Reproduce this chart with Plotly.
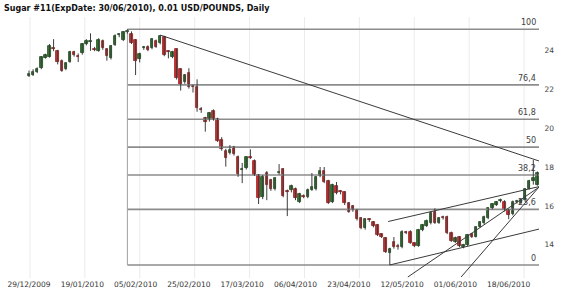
import plotly.graph_objects as go
import pandas as pd

# ---------------- data ----------------
HOLIDAYS = ["2010-01-01", "2010-01-18", "2010-02-15", "2010-03-01", "2010-04-02", "2010-05-31"]
trading_days = [d for d in pd.bdate_range("2009-12-29", "2010-06-29")
                if d.strftime("%Y-%m-%d") not in HOLIDAYS]
dates = [d.strftime("%d/%m/%Y") for d in trading_days]

opens = [22.72, 22.75, 22.90, 23.10, 23.65, 23.70, 24.15, 24.00, 23.50, 23.07,
         23.43, 23.95, 23.72, 23.87, 24.33, 24.45, 24.10, 24.00, 24.50, 24.08,
         23.61, 24.30, 24.80, 24.55, 24.98, 24.85, 24.55, 23.56, 24.15, 24.22,
         24.13, 24.52, 24.39, 24.73, 23.97, 23.70, 24.08, 23.04, 22.41, 22.84,
         22.17, 22.15, 21.00, 20.52, 20.47, 20.91, 20.47, 19.40, 18.85, 18.72,
         19.02, 18.54, 17.86, 17.94, 18.50, 18.33, 17.60, 16.48, 17.72, 17.34,
         16.86, 17.70, 17.89, 16.75, 16.82, 16.90, 16.23, 16.52, 16.46, 16.83,
         16.87, 17.54, 17.80, 17.29, 16.22, 17.03, 16.73, 16.70, 16.14, 15.99,
         15.79, 15.37, 14.85, 15.30, 15.15, 15.02, 14.56, 14.34, 13.59, 14.16,
         13.95, 13.88, 14.66, 14.68, 14.08, 13.95, 14.77, 14.97, 15.11, 15.71,
         15.14, 15.40, 15.42, 14.62, 14.15, 14.40, 13.90, 13.98, 14.55, 14.42,
         14.93, 15.11, 15.37, 15.88, 16.06, 16.25, 16.22, 15.79, 15.60, 16.20,
         16.15, 16.31, 16.90, 17.30, 17.10]
highs = [22.98, 23.05, 23.15, 23.72, 23.85, 24.35, 24.60, 24.05, 23.55, 23.40,
         24.00, 24.00, 23.86, 24.40, 24.60, 24.90, 24.20, 24.65, 24.58, 24.12,
         24.30, 24.85, 24.90, 25.02, 25.11, 25.00, 24.60, 23.90, 24.25, 24.28,
         24.65, 24.58, 24.81, 24.78, 24.02, 24.00, 24.12, 23.10, 22.80, 23.10,
         22.25, 22.53, 21.10, 20.60, 20.85, 20.98, 20.55, 19.55, 18.95, 19.14,
         19.10, 18.60, 18.22, 18.55, 18.92, 18.40, 17.65, 17.60, 17.80, 17.40,
         17.48, 18.16, 17.95, 16.85, 17.10, 16.95, 16.68, 16.60, 16.90, 17.70,
         17.55, 18.01, 18.01, 17.35, 17.15, 17.24, 16.82, 16.76, 16.20, 16.05,
         15.85, 15.42, 15.36, 15.38, 15.22, 15.08, 14.60, 14.40, 13.85, 14.40,
         14.05, 14.75, 14.72, 14.75, 14.12, 14.82, 15.08, 15.30, 15.72, 15.88,
         15.42, 15.50, 15.50, 14.68, 14.42, 14.45, 14.05, 14.56, 14.62, 14.95,
         15.22, 15.50, 15.93, 16.15, 16.26, 16.38, 16.30, 15.85, 16.28, 16.32,
         16.36, 16.92, 17.35, 18.37, 17.78]
lows = [22.65, 22.70, 22.85, 23.05, 23.60, 23.65, 23.98, 23.30, 22.92, 23.00,
        23.38, 23.70, 23.42, 23.80, 24.28, 24.00, 23.98, 23.95, 24.05, 23.49,
        23.55, 24.25, 24.70, 24.50, 24.88, 24.35, 22.75, 23.40, 24.05, 23.98,
        24.08, 24.15, 24.33, 23.72, 23.61, 23.62, 22.52, 21.95, 22.30, 22.05,
        21.85, 20.86, 20.80, 19.83, 20.35, 20.40, 19.30, 18.85, 18.03, 18.65,
        18.60, 17.50, 17.18, 17.88, 18.42, 17.55, 16.10, 16.35, 16.30, 16.78,
        16.80, 17.62, 16.45, 15.48, 16.70, 16.30, 16.15, 16.40, 16.40, 16.78,
        16.80, 17.48, 17.18, 16.10, 16.15, 16.60, 16.60, 16.05, 15.65, 15.70,
        15.25, 14.80, 14.78, 15.18, 14.90, 14.45, 14.35, 13.58, 12.96, 13.80,
        13.75, 13.82, 14.55, 14.05, 13.88, 13.90, 14.70, 14.92, 15.05, 15.08,
        15.08, 15.30, 14.55, 14.15, 14.10, 13.88, 13.82, 13.93, 14.35, 14.38,
        14.88, 15.05, 15.32, 15.83, 16.00, 16.18, 15.72, 15.32, 15.52, 16.12,
        16.10, 16.25, 16.85, 17.10, 17.05]
closes = [22.80, 22.90, 23.05, 23.67, 23.78, 24.25, 24.10, 23.40, 22.98, 23.35,
          23.92, 23.80, 23.68, 24.33, 24.52, 24.50, 24.05, 24.56, 24.14, 23.73,
          24.25, 24.76, 24.83, 24.95, 25.02, 24.42, 23.45, 23.84, 24.18, 24.04,
          24.60, 24.21, 24.76, 23.78, 23.94, 23.95, 22.58, 22.24, 22.75, 22.15,
          22.13, 21.04, 20.97, 20.35, 20.81, 20.47, 19.37, 18.92, 18.46, 18.89,
          18.68, 17.65, 17.90, 18.51, 18.47, 17.60, 16.40, 17.51, 17.08, 16.86,
          17.43, 17.73, 16.52, 16.72, 17.02, 16.40, 16.60, 16.49, 16.85, 17.00,
          17.49, 17.82, 17.24, 16.17, 17.08, 16.65, 16.70, 16.14, 15.70, 15.79,
          15.31, 14.85, 15.31, 15.26, 14.95, 14.50, 14.40, 13.64, 13.77, 13.87,
          13.90, 14.68, 14.63, 14.11, 13.93, 14.77, 15.02, 15.23, 15.66, 15.14,
          15.37, 15.38, 14.62, 14.21, 14.35, 13.93, 14.00, 14.51, 14.40, 14.90,
          15.17, 15.45, 15.88, 16.10, 16.20, 16.28, 15.79, 15.54, 16.22, 16.23,
          16.31, 16.86, 17.30, 17.45, 17.72]

tick_labels = ["29/12/2009", "19/01/2010", "05/02/2010", "25/02/2010", "17/03/2010",
               "06/04/2010", "23/04/2010", "12/05/2010", "01/06/2010", "18/06/2010"]
price_ticks = [14, 16, 18, 20, 22, 24]

# Fibonacci retracement (from the February high to the May low)
fib_start_index = 24
fib_high = 25.11
fib_low = 12.96
fib_levels = [0, 23.6, 38.2, 50, 61.8, 76.4, 100]
fib_labels = ["0", "23,6", "38,2", "50", "61,8", "76,4", "100"]

# drawn trend lines: (start index, start price) -> (end index, end price)
trend_x0 = [32, 87.6, 88, 92.4, 105.4]
trend_y0 = [24.81, 15.20, 12.96, 12.34, 12.34]
trend_x1 = [124.39, 124.39, 124.39, 124.39, 124.39]
trend_y1 = [18.32, 17.00, 14.81, 16.97, 16.98]

title_text = "Sugar #11(ExpDate: 30/06/2010), 0.01 USD/POUNDS, Daily"

# ---------------- style ----------------
GREEN = "#2d7d2d"
GREEN_EDGE = "#1c451c"
RED = "#d42a2a"
RED_EDGE = "#8a1c1c"
WICK = "#3c3c3c"
FIB = "#8c8c8c"
FONT = "DejaVu Sans"
X_RANGE = [-7.07, 124.39]
Y_RANGE = [12.289, 25.742]

n = len(dates)
x_idx = list(range(n))

fig = go.Figure()

# vertical grid
grid_pos = [0.24 + 13.39 * j for j in range(10)]
for gp in grid_pos:
    fig.add_shape(type="line", xref="x", yref="paper", x0=gp, x1=gp, y0=0, y1=1,
                  line=dict(color="#ebebeb", width=1), layer="below")

# fibonacci lines
for lv in fib_levels:
    val = fib_low + (fib_high - fib_low) * lv / 100.0
    fig.add_trace(go.Scatter(x=[fib_start_index, X_RANGE[1]], y=[val, val], mode="lines",
                             line=dict(color=FIB, width=1.6), hoverinfo="skip", showlegend=False))
fig.add_trace(go.Scatter(x=[fib_start_index, fib_start_index], y=[fib_low, fib_high], mode="lines",
                         line=dict(color="#a0a0a0", width=1), hoverinfo="skip", showlegend=False))

# wicks
wx, wy = [], []
for i, (h, l) in enumerate(zip(highs, lows)):
    wx += [i, i, None]
    wy += [l, h, None]
fig.add_trace(go.Scatter(x=wx, y=wy, mode="lines", line=dict(color=WICK, width=1),
                         hoverinfo="skip", showlegend=False))

# bodies
base = [min(o, c) for o, c in zip(opens, closes)]
hgt = [max(abs(c - o), 0.05) for o, c in zip(opens, closes)]
fill = [GREEN if c >= o else RED for o, c in zip(opens, closes)]
edge = [GREEN_EDGE if c >= o else RED_EDGE for o, c in zip(opens, closes)]
fig.add_trace(go.Bar(x=x_idx, y=hgt, base=base, width=0.62,
                     marker=dict(color=fill, line=dict(color=edge, width=0.8)),
                     hoverinfo="skip", showlegend=False))

# trend lines
for x0, y0, x1, y1 in zip(trend_x0, trend_y0, trend_x1, trend_y1):
    fig.add_trace(go.Scatter(x=[x0, x1], y=[y0, y1], mode="lines",
                             line=dict(color="#3a3a3a", width=1), hoverinfo="skip", showlegend=False))

# fib labels
for lv, lab in zip(fib_levels, fib_labels):
    val = fib_low + (fib_high - fib_low) * lv / 100.0
    fig.add_annotation(x=1, xref="paper", y=val, yref="y", text=lab, showarrow=False,
                       xanchor="right", yanchor="bottom", xshift=-1, yshift=0,
                       font=dict(family=FONT, size=8, color="#404040"))

tick_idx = [dates.index(t) for t in tick_labels]

fig.update_layout(
    width=570, height=296,
    margin=dict(l=0, r=31, t=17, b=18),
    paper_bgcolor="white", plot_bgcolor="white",
    showlegend=False, bargap=0,
    title=dict(text="<b>" + title_text + "</b>", x=4 / 570, xanchor="left",
               y=1 - 8 / 296, yanchor="middle",
               font=dict(family=FONT, size=8, color="#111111")),
    xaxis=dict(range=X_RANGE, tickmode="array", tickvals=tick_idx, ticktext=tick_labels,
               showgrid=False, zeroline=False, showline=False, ticks="",
               tickfont=dict(family=FONT, size=7.5, color="#333333")),
    yaxis=dict(range=Y_RANGE, side="right", tickmode="array", tickvals=price_ticks,
               showgrid=False, zeroline=False, showline=False,
               ticks="outside", ticklen=3, tickcolor="rgba(0,0,0,0)",
               tickfont=dict(family=FONT, size=7.5, color="#444444")),
)

fig.write_html("out.html")
